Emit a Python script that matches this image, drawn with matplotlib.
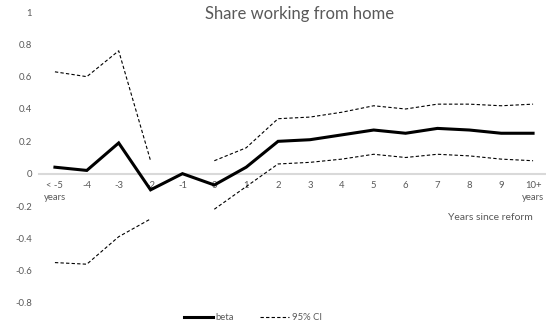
import numpy as np
import matplotlib
matplotlib.use("Agg")
import matplotlib.pyplot as plt

categories = ["< -5\nyears", "-4", "-3", "-2", "-1", "0", "1", "2", "3", "4",
              "5", "6", "7", "8", "9", "10+\nyears"]
beta = [0.04, 0.02, 0.19, -0.10, 0.00, -0.07, 0.04, 0.20, 0.21, 0.24,
        0.27, 0.25, 0.28, 0.27, 0.25, 0.25]
ci_upper = [0.63, 0.60, 0.76, 0.08, np.nan, 0.08, 0.16, 0.34, 0.35, 0.38,
            0.42, 0.40, 0.43, 0.43, 0.42, 0.43]
ci_lower = [-0.55, -0.56, -0.39, -0.28, np.nan, -0.22, -0.08, 0.06, 0.07, 0.09,
            0.12, 0.10, 0.12, 0.11, 0.09, 0.08]
yticks = [-0.8, -0.6, -0.4, -0.2, 0, 0.2, 0.4, 0.6, 0.8, 1]

plt.rcParams['font.family'] = ['Lato', 'DejaVu Sans']
grey = '#595959'

W, H = 546, 326
fig = plt.figure(figsize=(W / 100, H / 100), dpi=100)
ax = fig.add_axes([39 / W, (H - 303) / H, 510 / W, 291 / H])

x = np.arange(len(categories))
ax.plot(x, beta, color='black', lw=2.2, solid_joinstyle='miter', label='beta', zorder=3)
ax.plot(x, ci_upper, color='black', lw=0.8, ls=(0, (3, 2)), label='95% CI', zorder=3)
ax.plot(x, ci_lower, color='black', lw=0.8, ls=(0, (3, 2)), zorder=3)

ax.set_xlim(-0.5, len(categories) - 0.5)
ax.set_ylim(-0.8, 1.0)

for s in ['top', 'right', 'left']:
    ax.spines[s].set_visible(False)
ax.spines['bottom'].set_position(('data', 0))
ax.spines['bottom'].set_color('#d9d9d9')
ax.spines['bottom'].set_linewidth(1.5)
ax.spines['bottom'].set_zorder(1)

ax.set_xticks(x)
ax.set_xticklabels(categories, fontsize=6.8, color=grey, linespacing=1.5)
ax.tick_params(axis='x', length=0, pad=5)
ax.set_yticks(yticks)
ax.set_yticklabels([f"{v:g}" for v in yticks], fontsize=6.8, color=grey)
ax.tick_params(axis='y', length=0, pad=5)

fig.text(300 / W, 1 - 14 / H, "Share working from home", ha='center', va='center',
         fontsize=12, color=grey)
fig.text(533 / W, 1 - 218 / H, "Years since reform", ha='right', va='center',
         fontsize=7.5, color=grey)

fig.legend(loc='center', bbox_to_anchor=(253 / W, 1 - 318 / H), ncol=2, frameon=False,
           fontsize=6.8, labelcolor=grey, handlelength=3.0, handletextpad=0.3,
           columnspacing=2.8)

fig.savefig("out.png", dpi=100)
